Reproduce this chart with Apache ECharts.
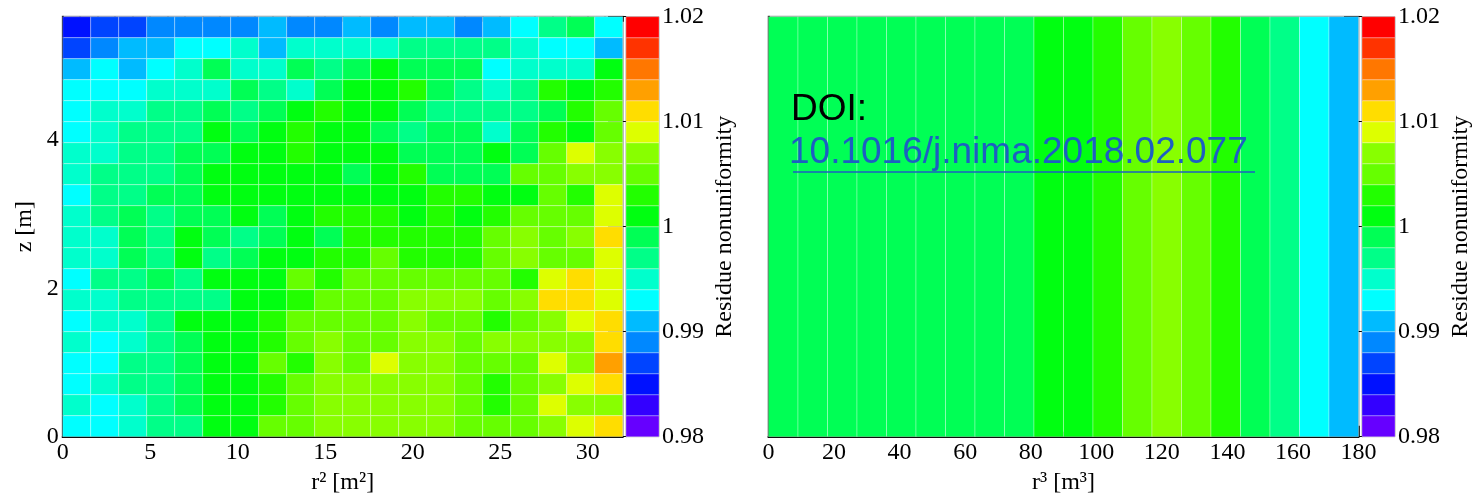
<!DOCTYPE html>
<html>
<head>
<meta charset="utf-8">
<title>Residue nonuniformity</title>
<script src="https://cdn.jsdelivr.net/npm/echarts@6/dist/echarts.min.js"></script>
<style>
  html, body { margin: 0; padding: 0; background: #fff; }
  #chart { width: 1479px; height: 497px; }
</style>
</head>
<body>
<div id="chart"></div>
<script>
// binning of the two histograms
const r2Max = 32
const zMax = 5.66
const r3Max = 180
const nBins = 20

// residue nonuniformity in (r^2, z), rows listed from top (z = zMax) to bottom (z = 0)
const residueR2Z = [
  [0.985, 0.987, 0.987, 0.989, 0.989, 0.989, 0.989, 0.991, 0.989, 0.989, 0.991, 0.989, 0.991, 0.991, 0.989, 0.991, 0.993, 0.997, 0.999, 0.993],
  [0.987, 0.989, 0.991, 0.991, 0.993, 0.993, 0.995, 0.991, 0.995, 0.995, 0.995, 0.995, 0.997, 0.997, 0.997, 0.997, 0.995, 0.993, 0.993, 0.991],
  [0.991, 0.993, 0.991, 0.993, 0.995, 0.999, 0.995, 0.995, 0.999, 0.997, 0.999, 1.001, 0.999, 0.999, 0.999, 0.993, 0.995, 0.995, 0.995, 1.001],
  [0.993, 0.993, 0.993, 0.995, 0.995, 0.995, 0.999, 0.997, 0.995, 0.999, 1.001, 1.001, 1.003, 0.999, 0.997, 0.995, 0.997, 1.003, 1.001, 1.003],
  [0.993, 0.995, 0.995, 0.997, 0.997, 0.999, 0.997, 0.999, 1.001, 1.003, 1.001, 1.001, 0.999, 0.997, 0.997, 0.997, 0.997, 0.999, 1.003, 1.005],
  [0.993, 0.995, 0.997, 0.997, 0.997, 1.001, 0.999, 1.001, 1.003, 1.001, 1.001, 0.999, 0.997, 0.999, 0.999, 0.995, 0.999, 1.003, 1.001, 1.005],
  [0.995, 0.995, 0.997, 0.997, 0.999, 0.999, 1.001, 1.001, 1.003, 1.001, 1.001, 1.001, 0.999, 0.999, 0.999, 1.001, 0.999, 1.005, 1.009, 1.007],
  [0.995, 0.997, 0.997, 0.997, 0.999, 1.001, 1.001, 1.001, 1.001, 1.001, 0.999, 1.001, 1.003, 0.999, 0.999, 0.999, 1.005, 1.005, 1.007, 1.007],
  [0.993, 0.997, 0.997, 0.999, 0.999, 1.001, 1.001, 1.001, 1.001, 1.001, 1.001, 1.001, 1.001, 1.003, 1.003, 1.001, 1.001, 1.005, 1.003, 1.009],
  [0.995, 0.997, 0.999, 0.997, 0.999, 0.999, 1.001, 0.999, 1.001, 1.003, 1.003, 1.003, 1.001, 1.003, 1.001, 1.003, 1.005, 1.005, 1.005, 1.009],
  [0.995, 0.995, 0.999, 0.997, 1.001, 0.999, 0.997, 0.999, 1.001, 0.999, 1.003, 1.003, 1.003, 1.003, 1.003, 1.005, 1.007, 1.005, 1.007, 1.011],
  [0.995, 0.995, 0.999, 0.997, 1.001, 0.997, 0.999, 1.001, 1.001, 1.003, 1.003, 1.005, 1.003, 1.003, 1.003, 1.005, 1.007, 1.005, 1.005, 1.009],
  [0.993, 0.997, 0.997, 0.999, 0.997, 1.001, 1.001, 1.001, 1.005, 1.003, 1.005, 1.005, 1.005, 1.005, 1.005, 1.005, 1.003, 1.009, 1.011, 1.009],
  [0.995, 0.995, 0.997, 0.997, 0.997, 0.997, 1.001, 1.001, 1.003, 1.005, 1.005, 1.005, 1.007, 1.007, 1.007, 1.005, 1.007, 1.011, 1.011, 1.009],
  [0.993, 0.995, 0.995, 0.997, 1.001, 1.001, 1.001, 1.003, 1.005, 1.005, 1.005, 1.005, 1.007, 1.005, 1.005, 1.003, 1.005, 1.007, 1.009, 1.011],
  [0.995, 0.993, 0.995, 0.997, 0.999, 1.001, 1.001, 1.003, 1.005, 1.007, 1.005, 1.005, 1.007, 1.007, 1.005, 1.007, 1.007, 1.007, 1.007, 1.011],
  [0.993, 0.993, 0.997, 0.997, 0.999, 1.001, 1.001, 1.005, 1.003, 1.007, 1.005, 1.009, 1.007, 1.007, 1.005, 1.005, 1.005, 1.009, 1.007, 1.013],
  [0.993, 0.995, 0.997, 0.997, 0.999, 1.001, 1.001, 1.003, 1.005, 1.007, 1.007, 1.007, 1.007, 1.007, 1.005, 1.003, 1.005, 1.007, 1.009, 1.011],
  [0.995, 0.993, 0.995, 0.997, 0.999, 1.001, 1.001, 1.003, 1.005, 1.007, 1.007, 1.007, 1.007, 1.007, 1.005, 1.003, 1.005, 1.009, 1.007, 1.007],
  [0.993, 0.993, 0.995, 0.997, 0.997, 1.001, 1.001, 1.005, 1.005, 1.007, 1.007, 1.007, 1.007, 1.007, 1.005, 1.005, 1.005, 1.007, 1.009, 1.011]
]

// residue nonuniformity along r^3
const residueR3 = [0.999, 0.999, 0.999, 0.999, 0.999, 0.999, 0.999, 0.999, 0.999, 1.001,
  1.001, 1.003, 1.005, 1.007, 1.005, 1.003, 0.999, 0.997, 0.993, 0.991]

// colour palette, 20 levels from bottom to top
const paletteMin = 0.98
const paletteMax = 1.02
const paletteColors = ['#6600ff', '#3300ff', '#0011ff', '#0044ff', '#0088ff', '#00bbff', '#00ffff', '#00ffcc',
  '#00ff88', '#00ff55', '#00ff11', '#22ff00', '#66ff00', '#88ff00', '#ddff00', '#ffdd00', '#ffa000', '#ff7700',
  '#ff3300', '#ff0000']

const r2TickValues = [0, 5, 10, 15, 20, 25, 30]
const zTickValues = [0, 2, 4]

const r2Bin = r2Max / nBins
const zBin = zMax / nBins
const r3Bin = r3Max / nBins
const levelStep = (paletteMax - paletteMin) / paletteColors.length

const leftCells = []
residueR2Z.forEach((row, rowIdx) => {
  const zIdx = nBins - 1 - rowIdx
  row.forEach((v, col) => {
    leftCells.push([(col + 0.5) * r2Bin, (zIdx + 0.5) * zBin, v])
  })
})
const rightCells = residueR3.map((v, i) => [(i + 0.5) * r3Bin, 0.5, v])
const barCells = paletteColors.map((c, i) => {
  const mid = paletteMin + (i + 0.5) * levelStep
  return [0.5, mid, mid]
})

const pieces = paletteColors.map((color, i) => {
  const piece = { gte: paletteMin + i * levelStep, color: color }
  if (i === paletteColors.length - 1) piece.lte = paletteMax
  else piece.lt = paletteMin + (i + 1) * levelStep
  return piece
})

function cellRenderer(binW, binH) {
  return function (params, api) {
    const xc = api.value(0)
    const yc = api.value(1)
    const p0 = api.coord([xc - binW / 2, yc + binH / 2])
    const p1 = api.coord([xc + binW / 2, yc - binH / 2])
    return {
      type: 'rect',
      shape: { x: p0[0], y: p0[1], width: p1[0] - p0[0], height: p1[1] - p0[1] },
      style: { fill: api.visual('color'), stroke: 'rgba(255,255,255,0.3)', lineWidth: 1 }
    }
  }
}

const serif = 'Liberation Serif'
const blackLine = { show: true, lineStyle: { color: '#000', width: 2 } }
const frame = { show: true, borderColor: '#999', borderWidth: 2, backgroundColor: 'transparent', outerBoundsMode: 'none' }

function paletteAxis(gridIndex) {
  return {
    gridIndex: gridIndex,
    type: 'value',
    position: 'right',
    min: paletteMin,
    max: paletteMax,
    interval: 0.01,
    axisLine: { show: true, lineStyle: { color: '#666', width: 1 } },
    axisTick: { show: true, inside: true, length: 18, lineStyle: { color: '#000', width: 1 } },
    axisLabel: { margin: 3, fontSize: 24, fontFamily: serif, color: '#000' },
    splitLine: { show: false },
    name: 'Residue nonuniformity',
    nameLocation: 'middle',
    nameGap: 54,
    nameTextStyle: { fontSize: 24, fontFamily: serif, color: '#000' }
  }
}

const chart = echarts.init(document.getElementById('chart'), null, { renderer: 'canvas' })

chart.setOption({
  backgroundColor: '#fff',
  animation: false,
  textStyle: { fontFamily: serif, color: '#000' },
  grid: [
    Object.assign({ left: 62.7, top: 16.7, width: 560, height: 420 }, frame),
    Object.assign({ left: 626, top: 16.7, width: 33, height: 420 }, frame, { borderWidth: 1 }),
    Object.assign({ left: 768.5, top: 16.7, width: 590, height: 420 }, frame),
    Object.assign({ left: 1362, top: 16.7, width: 33, height: 420 }, frame, { borderWidth: 1 })
  ],
  visualMap: {
    type: 'piecewise',
    show: false,
    dimension: 2,
    seriesIndex: [0, 1, 2, 3],
    pieces: pieces
  },
  xAxis: [
    {
      gridIndex: 0,
      type: 'value',
      min: 0,
      max: r2Max,
      interval: 5,
      axisLine: blackLine,
      axisTick: { show: true, inside: true, length: 11, customValues: r2TickValues, lineStyle: { color: '#000', width: 1.5 } },
      axisLabel: { customValues: r2TickValues, margin: 4, fontSize: 24, fontFamily: serif, color: '#000' },
      splitLine: { show: false },
      name: 'r² [m²]',
      nameLocation: 'middle',
      nameGap: 34,
      nameTextStyle: { fontSize: 24, fontFamily: serif, color: '#000' }
    },
    {
      gridIndex: 0,
      type: 'value',
      min: 0,
      max: r2Max,
      interval: 1,
      axisLine: { show: false },
      axisTick: { show: true, inside: true, length: 5, lineStyle: { color: '#000', width: 1.5 } },
      axisLabel: { show: false },
      splitLine: { show: false }
    },
    { gridIndex: 1, type: 'value', min: 0, max: 1, show: false },
    {
      gridIndex: 2,
      type: 'value',
      min: 0,
      max: r3Max,
      interval: 20,
      axisLine: blackLine,
      axisTick: { show: true, inside: true, length: 11, lineStyle: { color: '#000', width: 1.5 } },
      minorTick: { show: true, splitNumber: 4, length: 5, lineStyle: { color: '#000', width: 1.5 } },
      axisLabel: { margin: 4, fontSize: 24, fontFamily: serif, color: '#000' },
      splitLine: { show: false },
      name: 'r³ [m³]',
      nameLocation: 'middle',
      nameGap: 34,
      nameTextStyle: { fontSize: 24, fontFamily: serif, color: '#000' }
    },
    { gridIndex: 3, type: 'value', min: 0, max: 1, show: false }
  ],
  yAxis: [
    {
      gridIndex: 0,
      type: 'value',
      min: 0,
      max: zMax,
      interval: 2,
      axisLine: blackLine,
      axisTick: { show: true, inside: true, length: 18, customValues: zTickValues, lineStyle: { color: '#000', width: 1.5 } },
      axisLabel: { customValues: zTickValues, margin: 4, fontSize: 24, fontFamily: serif, color: '#000' },
      splitLine: { show: false },
      name: 'z [m]',
      nameLocation: 'middle',
      nameGap: 26,
      nameTextStyle: { fontSize: 24, fontFamily: serif, color: '#000' }
    },
    paletteAxis(1),
    {
      gridIndex: 2,
      type: 'value',
      min: 0,
      max: 1,
      axisLine: blackLine,
      axisTick: { show: false },
      axisLabel: { show: false },
      splitLine: { show: false }
    },
    paletteAxis(3)
  ],
  series: [
    { type: 'custom', xAxisIndex: 0, yAxisIndex: 0, data: leftCells, renderItem: cellRenderer(r2Bin, zBin), z: 1 },
    { type: 'custom', xAxisIndex: 3, yAxisIndex: 2, data: rightCells, renderItem: cellRenderer(r3Bin, 1), z: 1 },
    { type: 'custom', xAxisIndex: 2, yAxisIndex: 1, data: barCells, renderItem: cellRenderer(1, levelStep), z: 1 },
    { type: 'custom', xAxisIndex: 4, yAxisIndex: 3, data: barCells, renderItem: cellRenderer(1, levelStep), z: 1 }
  ],
  graphic: [
    {
      type: 'text',
      left: 791,
      top: 91,
      z: 100,
      style: { text: 'DOI:', font: '37px "Liberation Sans"', fill: '#000' }
    },
    {
      type: 'text',
      left: 789,
      top: 134,
      z: 100,
      style: { text: '10.1016/j.nima.2018.02.077', font: '37px "Liberation Sans"', fill: '#1d5fc2' }
    },
    {
      type: 'line',
      z: 100,
      shape: { x1: 793, y1: 172, x2: 1255, y2: 172 },
      style: { stroke: '#1d5fc2', lineWidth: 1.5 }
    }
  ]
})

window.addEventListener('resize', () => chart.resize())
</script>
</body>
</html>
